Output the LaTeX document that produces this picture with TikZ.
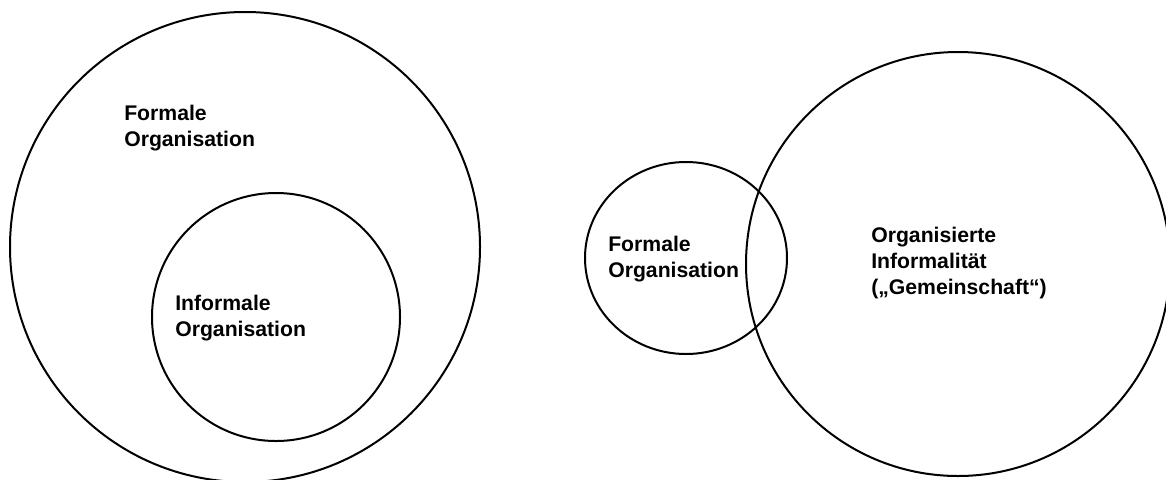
\documentclass[tikz,border=0pt]{standalone}
\usepackage{fontspec}
\setmainfont{Liberation Sans}

\def\px{0.75pt}

\tikzset{
  ring/.style={draw, line width=1.5pt},
  orgtext/.style={anchor=north west, inner sep=0pt, align=left,
    font=\bfseries\fontsize{15.9}{19.6}\selectfont}
}

\begin{document}
\begin{tikzpicture}[x=\px, y=-\px]
      \useasboundingbox (0,0) rectangle (1166,479);
      % formal organisation containing the informal one
      \draw[ring] (245,247) circle [radius=235];
      \draw[ring] (276,317) circle [radius=124];
      \node[orgtext] (formL) at (124,105) {Formale\\Organisation};
      \node[orgtext] (informL) at (175,295) {Informale\\Organisation};
      % formal organisation overlapping organised informality
      \draw[ring] (686,258) ellipse [x radius=101, y radius=96];
      \draw[ring] (958,264) circle [radius=212];
      \node[orgtext] (formR) at (608,236) {Formale\\Organisation};
      \node[orgtext] (gemR) at (871,227) {Organisierte\\Informalität\\(„Gemeinschaft“)};
\end{tikzpicture}
\end{document}
